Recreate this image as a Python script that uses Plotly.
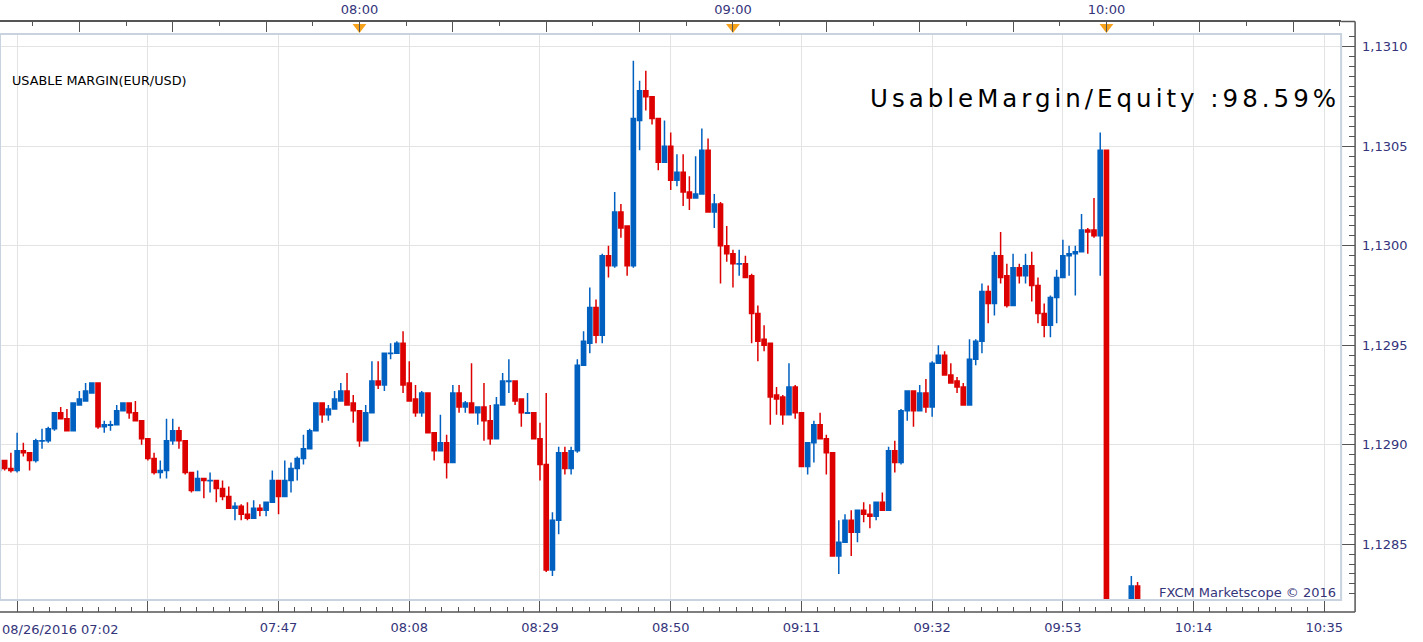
import plotly.graph_objects as go

DATE = "2016-08-26"

times = [
    "07:02", "07:03", "07:04", "07:05", "07:06", "07:07", "07:08", "07:09", "07:10", "07:11",
    "07:12", "07:13", "07:14", "07:15", "07:16", "07:17", "07:18", "07:19", "07:20", "07:21",
    "07:22", "07:23", "07:24", "07:25", "07:26", "07:27", "07:28", "07:29", "07:30", "07:31",
    "07:32", "07:33", "07:34", "07:35", "07:36", "07:37", "07:38", "07:39", "07:40", "07:41",
    "07:42", "07:43", "07:44", "07:45", "07:46", "07:47", "07:48", "07:49", "07:50", "07:51",
    "07:52", "07:53", "07:54", "07:55", "07:56", "07:57", "07:58", "07:59", "08:00", "08:01",
    "08:02", "08:03", "08:04", "08:05", "08:06", "08:07", "08:08", "08:09", "08:10", "08:11",
    "08:12", "08:13", "08:14", "08:15", "08:16", "08:17", "08:18", "08:19", "08:20", "08:21",
    "08:22", "08:23", "08:24", "08:25", "08:26", "08:27", "08:28", "08:29", "08:30", "08:31",
    "08:32", "08:33", "08:34", "08:35", "08:36", "08:37", "08:38", "08:39", "08:40", "08:41",
    "08:42", "08:43", "08:44", "08:45", "08:46", "08:47", "08:48", "08:49", "08:50", "08:51",
    "08:52", "08:53", "08:54", "08:55", "08:56", "08:57", "08:58", "08:59", "09:00", "09:01",
    "09:02", "09:03", "09:04", "09:05", "09:06", "09:07", "09:08", "09:09", "09:10", "09:11",
    "09:12", "09:13", "09:14", "09:15", "09:16", "09:17", "09:18", "09:19", "09:20", "09:21",
    "09:22", "09:23", "09:24", "09:25", "09:26", "09:27", "09:28", "09:29", "09:30", "09:31",
    "09:32", "09:33", "09:34", "09:35", "09:36", "09:37", "09:38", "09:39", "09:40", "09:41",
    "09:42", "09:43", "09:44", "09:45", "09:46", "09:47", "09:48", "09:49", "09:50", "09:51",
    "09:52", "09:53", "09:54", "09:55", "09:56", "09:57", "09:58", "09:59", "10:00", "10:04",
    "10:05",
]

open_ = [
    1.12887, 1.12892, 1.12888, 1.12887, 1.12897, 1.12896, 1.12892, 1.129018, 1.12902, 1.12908,
    1.12916, 1.12913, 1.12907, 1.12920, 1.12922, 1.12926, 1.12931, 1.12909, 1.129098, 1.12910,
    1.12917, 1.12921, 1.12916, 1.12912, 1.12903, 1.12893, 1.12886, 1.12887, 1.12902, 1.12907,
    1.12902, 1.12886, 1.12877, 1.12883, 1.128818, 1.12882, 1.12878, 1.12874, 1.12868, 1.12869,
    1.12865, 1.12863, 1.12868, 1.12867, 1.12871, 1.12882, 1.12874, 1.12882, 1.12888, 1.12893,
    1.12898, 1.12907, 1.12921, 1.12915, 1.12918, 1.12922, 1.12927, 1.12921, 1.12917, 1.12902,
    1.12916, 1.12932, 1.12930, 1.129458, 1.12946, 1.12951, 1.12931, 1.12923, 1.12916, 1.12926,
    1.12906, 1.12897, 1.12901, 1.12891, 1.12926, 1.12919, 1.12921, 1.12916, 1.12919, 1.12912,
    1.12903, 1.12920, 1.129318, 1.12932, 1.12923, 1.129158, 1.12916, 1.12903, 1.12890, 1.12837,
    1.12862, 1.12896, 1.12888, 1.12897, 1.12940, 1.12951, 1.12969, 1.12955, 1.12995, 1.12990,
    1.13017, 1.13010, 1.12990, 1.13063, 1.13078, 1.13075, 1.13064, 1.13042, 1.13050, 1.13033,
    1.13037, 1.13027, 1.13024, 1.13026, 1.13048, 1.13017, 1.13021, 1.13000, 1.12996, 1.129908,
    1.12991, 1.12985, 1.12966, 1.12953, 1.12951, 1.12925, 1.12924, 1.12915, 1.12929, 1.12916,
    1.12889, 1.12901, 1.12910, 1.12903, 1.12896, 1.12844, 1.12851, 1.12862, 1.12856, 1.12867,
    1.12865, 1.12864, 1.12871, 1.12867, 1.12897, 1.12891, 1.12917, 1.12927, 1.12917, 1.12926,
    1.12919, 1.12941, 1.12945, 1.12935, 1.12932, 1.12929, 1.12920, 1.12943, 1.12952, 1.12977,
    1.12971, 1.12995, 1.12985, 1.12970, 1.12989, 1.12985, 1.12990, 1.12980, 1.12966, 1.12960,
    1.12974, 1.12984, 1.12995, 1.12996, 1.12997, 1.13008, 1.13008, 1.13005, 1.13048, 1.12800,
    1.12829,
]

high = [
    1.12893, 1.12892, 1.12896, 1.12906, 1.12901, 1.12896, 1.12903, 1.12908, 1.12909, 1.12916,
    1.12919, 1.12918, 1.12921, 1.12927, 1.12931, 1.12931, 1.12931, 1.12912, 1.12912, 1.12920,
    1.12921, 1.12921, 1.12922, 1.12912, 1.12903, 1.12896, 1.12892, 1.12913, 1.12913, 1.12909,
    1.12902, 1.12886, 1.12887, 1.12883, 1.12886, 1.12882, 1.12882, 1.12879, 1.12871, 1.12870,
    1.12871, 1.12872, 1.12870, 1.12871, 1.12887, 1.12882, 1.12892, 1.12891, 1.12894, 1.12905,
    1.12908, 1.12921, 1.12921, 1.12920, 1.12927, 1.12931, 1.12936, 1.12925, 1.12917, 1.12920,
    1.12942, 1.12942, 1.12946, 1.12951, 1.12952, 1.12957, 1.12942, 1.12930, 1.12927, 1.12926,
    1.12906, 1.12915, 1.12905, 1.12930, 1.12930, 1.12922, 1.12941, 1.12919, 1.12931, 1.12920,
    1.12924, 1.12936, 1.12943, 1.12932, 1.12923, 1.12926, 1.12916, 1.12911, 1.12926, 1.12866,
    1.12899, 1.12899, 1.12899, 1.12943, 1.12957, 1.12979, 1.12973, 1.12996, 1.13000, 1.13027,
    1.13021, 1.13010, 1.13093, 1.13083, 1.13088, 1.13075, 1.13064, 1.13063, 1.13057, 1.13046,
    1.13046, 1.13035, 1.13045, 1.13059, 1.13054, 1.13026, 1.13022, 1.13010, 1.12998, 1.12998,
    1.12995, 1.12986, 1.12970, 1.12960, 1.12951, 1.12929, 1.12925, 1.12941, 1.12930, 1.12916,
    1.12901, 1.12912, 1.12916, 1.12905, 1.12896, 1.12862, 1.12865, 1.12867, 1.12867, 1.12871,
    1.12870, 1.12871, 1.12876, 1.12899, 1.12902, 1.12918, 1.12927, 1.12927, 1.12930, 1.12933,
    1.12942, 1.12950, 1.12947, 1.12941, 1.12934, 1.12931, 1.12953, 1.12953, 1.12981, 1.12980,
    1.12997, 1.13007, 1.12991, 1.12996, 1.12991, 1.12996, 1.12997, 1.12984, 1.12971, 1.12975,
    1.12988, 1.13003, 1.13000, 1.13000, 1.13016, 1.13009, 1.13024, 1.13057, 1.13048, 1.12834,
    1.12831,
]

low = [
    1.12886, 1.12887, 1.12886, 1.12886, 1.12894, 1.12887, 1.12891, 1.12898, 1.12901, 1.12907,
    1.12913, 1.12907, 1.12907, 1.12920, 1.12922, 1.12926, 1.12908, 1.12906, 1.12907, 1.12910,
    1.12917, 1.12913, 1.12912, 1.12900, 1.12892, 1.12885, 1.12883, 1.12883, 1.12900, 1.12898,
    1.12885, 1.12876, 1.12877, 1.12873, 1.12876, 1.12871, 1.12872, 1.12868, 1.12862, 1.12862,
    1.12862, 1.12863, 1.12864, 1.12864, 1.12871, 1.12865, 1.12874, 1.12876, 1.12882, 1.12890,
    1.12898, 1.12907, 1.12911, 1.12912, 1.12918, 1.12922, 1.12920, 1.12911, 1.12899, 1.12902,
    1.12916, 1.12928, 1.12927, 1.12943, 1.12946, 1.12926, 1.12922, 1.12914, 1.12914, 1.12906,
    1.12892, 1.12897, 1.12883, 1.12891, 1.12916, 1.12916, 1.12916, 1.12910, 1.12902, 1.12900,
    1.12903, 1.12920, 1.12926, 1.12920, 1.12909, 1.12916, 1.12903, 1.12882, 1.12836, 1.12834,
    1.12855, 1.12885, 1.12885, 1.12896, 1.12940, 1.12946, 1.12951, 1.12951, 1.12984, 1.12989,
    1.13004, 1.12985, 1.12989, 1.13048, 1.13068, 1.13061, 1.13038, 1.13042, 1.13028, 1.13030,
    1.13020, 1.13018, 1.13024, 1.13026, 1.13017, 1.13009, 1.12981, 1.12992, 1.12979, 1.12985,
    1.12984, 1.12951, 1.12942, 1.12947, 1.12910, 1.12915, 1.12910, 1.12915, 1.12913, 1.12889,
    1.12885, 1.12891, 1.12903, 1.12885, 1.12844, 1.12835, 1.12851, 1.12844, 1.12851, 1.12861,
    1.12858, 1.12862, 1.12867, 1.12867, 1.12886, 1.12890, 1.12912, 1.12909, 1.12917, 1.12916,
    1.12914, 1.12941, 1.12935, 1.12931, 1.12926, 1.12920, 1.12920, 1.12940, 1.12946, 1.12961,
    1.12965, 1.12981, 1.12969, 1.12970, 1.12981, 1.12981, 1.12972, 1.12961, 1.12954, 1.12954,
    1.12961, 1.12984, 1.12985, 1.12975, 1.12997, 1.12996, 1.13004, 1.12985, 1.12800, 1.12800,
    1.12800,
]

close = [
    1.12892, 1.12888, 1.12887, 1.12897, 1.12896, 1.12892, 1.12902, 1.129020, 1.12908, 1.12916,
    1.12913, 1.12907, 1.12921, 1.12923, 1.12927, 1.12931, 1.12909, 1.12910, 1.129100, 1.12917,
    1.12921, 1.12916, 1.12912, 1.12903, 1.12893, 1.12886, 1.12887, 1.12902, 1.12907, 1.12902,
    1.12886, 1.12877, 1.12883, 1.12882, 1.128820, 1.12878, 1.12874, 1.12868, 1.12869, 1.12865,
    1.12863, 1.12868, 1.12867, 1.12871, 1.12882, 1.12874, 1.12882, 1.12888, 1.12893, 1.12898,
    1.12907, 1.12921, 1.12915, 1.12918, 1.12923, 1.12927, 1.12920, 1.12917, 1.12902, 1.12916,
    1.12932, 1.12930, 1.12946, 1.129460, 1.12951, 1.12930, 1.12922, 1.12916, 1.12926, 1.12906,
    1.12897, 1.12901, 1.12891, 1.12926, 1.12919, 1.12921, 1.12916, 1.12919, 1.12912, 1.12903,
    1.12920, 1.12932, 1.129320, 1.12922, 1.12916, 1.129160, 1.12903, 1.12890, 1.12837, 1.12862,
    1.12896, 1.12888, 1.12897, 1.12940, 1.12952, 1.12969, 1.12955, 1.12995, 1.12990, 1.13017,
    1.13009, 1.12990, 1.13064, 1.13078, 1.13075, 1.13064, 1.13042, 1.13050, 1.13033, 1.13037,
    1.13027, 1.13024, 1.13026, 1.13048, 1.13017, 1.13021, 1.13000, 1.12996, 1.12991, 1.129910,
    1.12984, 1.12966, 1.12952, 1.12950, 1.12924, 1.12923, 1.12915, 1.12929, 1.12916, 1.12889,
    1.12901, 1.12910, 1.12903, 1.12896, 1.12844, 1.12851, 1.12862, 1.12856, 1.12867, 1.12865,
    1.12864, 1.12871, 1.12867, 1.12897, 1.12891, 1.12917, 1.12927, 1.12917, 1.12926, 1.12919,
    1.12941, 1.12945, 1.12935, 1.12931, 1.12929, 1.12920, 1.12943, 1.12952, 1.12977, 1.12971,
    1.12995, 1.12984, 1.12970, 1.12989, 1.12985, 1.12990, 1.12980, 1.12966, 1.12960, 1.12974,
    1.12984, 1.12995, 1.12996, 1.12997, 1.13008, 1.13007, 1.13005, 1.13048, 1.12800, 1.12829,
    1.12800,
]

bottom_tick_times = ["07:05", "07:26", "07:47", "08:08", "08:29", "08:50", "09:11", "09:32", "09:53", "10:14", "10:35"]
bottom_tick_labels = ["", "", "07:47", "08:08", "08:29", "08:50", "09:11", "09:32", "09:53", "10:14", "10:35"]
first_bar_label = "08/26/2016 07:02"

top_tick_times = ["07:15", "07:30", "07:45", "08:00", "08:15", "08:30", "08:45", "09:00",
                  "09:15", "09:30", "09:45", "10:00", "10:15", "10:30"]
top_tick_labels = ["", "", "", "08:00", "", "", "", "09:00", "", "", "", "10:00", "", ""]
hour_marks = ["08:00", "09:00", "10:00"]

price_ticks = [1.1285, 1.1290, 1.1295, 1.1300, 1.1305, 1.1310]

title_left = "USABLE MARGIN(EUR/USD)"
title_right = "UsableMargin/Equity :98.59%"
credit = "FXCM Marketscope © 2016"

# ---------- layout geometry (pixels) ----------
W, H = 1423, 642
PLOT_L, PLOT_R, PLOT_T, PLOT_B = 0, 1343, 34, 600
BOT_AXIS_Y = 612
RIGHT_AXIS_X = 1357
TOP_AXIS_Y = 21.5


def px(x):
    return x / W


def py(y):
    return 1 - y / H


def ts(t):
    return f"{DATE} {t}"


X_RANGE = [ts("07:02:15"), ts("10:37:42")]
Y_RANGE = [1.128219, 1.131065]

BLUE = "#0060c0"
RED = "#dd0000"
AXIS_COL = "#555555"
TXT_COL = "#34347a"
GRID_COL = "#e3e3e3"
FONT = "DejaVu Sans"

fig = go.Figure()

fig.add_trace(go.Candlestick(
    x=[ts(t) for t in times],
    open=open_, high=high, low=low, close=close,
    increasing=dict(line=dict(color=BLUE, width=1.5), fillcolor=BLUE),
    decreasing=dict(line=dict(color=RED, width=1.5), fillcolor=RED),
    whiskerwidth=0,
    xaxis="x", yaxis="y",
    showlegend=False,
    hoverinfo="skip",
))

fig.add_trace(go.Scatter(
    x=[ts(t) for t in hour_marks],
    y=[0.55] * len(hour_marks),
    mode="markers",
    marker=dict(symbol="triangle-down", size=12, color="#f7a21b",
                line=dict(width=0)),
    xaxis="x2", yaxis="y3",
    cliponaxis=False,
    showlegend=False,
    hoverinfo="skip",
))

tickfont = dict(family=FONT, size=13, color=TXT_COL)

fig.update_layout(
    width=W, height=H,
    margin=dict(l=0, r=0, t=0, b=0),
    paper_bgcolor="white",
    plot_bgcolor="white",
    separators=",.",
    boxgap=0.33, boxgroupgap=0,
    showlegend=False,
    xaxis=dict(
        type="date",
        domain=[px(PLOT_L), px(PLOT_R)],
        range=X_RANGE,
        anchor="free", position=py(BOT_AXIS_Y), side="bottom",
        rangeslider=dict(visible=False),
        showline=False, zeroline=False,
        tickmode="array",
        tickvals=[ts(t) for t in bottom_tick_times],
        ticktext=bottom_tick_labels,
        ticks="inside", ticklen=11, tickwidth=1, tickcolor=AXIS_COL,
        ticklabelstandoff=6,
        tickfont=tickfont,
        showgrid=True, gridcolor=GRID_COL, gridwidth=1,
        minor=dict(ticks="inside", ticklen=5, tickwidth=1, tickcolor=AXIS_COL,
                   tick0=ts("07:05"), dtick=157500, showgrid=False),
    ),
    yaxis=dict(
        domain=[py(PLOT_B), py(PLOT_T)],
        range=Y_RANGE,
        anchor="free", position=px(RIGHT_AXIS_X), side="right",
        showline=False, zeroline=False,
        tickmode="array", tickvals=price_ticks, tickformat=".4f",
        ticks="inside", ticklen=14, tickwidth=1, tickcolor=AXIS_COL,
        ticklabelstandoff=6,
        tickfont=tickfont,
        showgrid=True, gridcolor=GRID_COL, gridwidth=1,
        minor=dict(ticks="inside", ticklen=6, tickwidth=1, tickcolor=AXIS_COL,
                   tick0=1.1280, dtick=0.00005, showgrid=False),
    ),
    xaxis2=dict(
        type="date",
        domain=[px(PLOT_L), px(PLOT_R)],
        range=X_RANGE,
        anchor="y3", side="top",
        showline=True, linecolor=AXIS_COL, linewidth=1.5,
        zeroline=False, showgrid=False,
        tickmode="array",
        tickvals=[ts(t) for t in top_tick_times],
        ticktext=top_tick_labels,
        ticks="inside", ticklen=11, tickwidth=1, tickcolor=AXIS_COL,
        ticklabelstandoff=1,
        tickfont=tickfont,
        minor=dict(ticks="inside", ticklen=5, tickwidth=1, tickcolor=AXIS_COL,
                   tick0=ts("07:00"), dtick=450000, showgrid=False),
    ),
    yaxis3=dict(
        domain=[py(PLOT_T), py(TOP_AXIS_Y)],
        range=[0, 1], anchor="x2", visible=False,
    ),
    shapes=[
        dict(type="rect", xref="paper", yref="paper",
             x0=px(PLOT_L), x1=px(PLOT_R), y0=py(PLOT_B), y1=py(PLOT_T),
             line=dict(color="#c8d3df", width=2), layer="above"),
        dict(type="line", xref="paper", yref="paper",
             x0=0, x1=px(RIGHT_AXIS_X), y0=py(BOT_AXIS_Y), y1=py(BOT_AXIS_Y),
             line=dict(color=AXIS_COL, width=1.5)),
        dict(type="line", xref="paper", yref="paper",
             x0=px(RIGHT_AXIS_X), x1=px(RIGHT_AXIS_X), y0=py(BOT_AXIS_Y), y1=py(TOP_AXIS_Y),
             line=dict(color=AXIS_COL, width=1.5)),
        dict(type="line", xref="paper", yref="paper",
             x0=px(PLOT_R), x1=px(RIGHT_AXIS_X), y0=py(TOP_AXIS_Y), y1=py(TOP_AXIS_Y),
             line=dict(color=AXIS_COL, width=1.5)),
    ],
    annotations=[
        dict(text=title_left, xref="paper", yref="paper", x=px(10), y=py(80.5),
             xanchor="left", yanchor="middle", showarrow=False,
             font=dict(family=FONT, size=12.8, color="#000000")),
        dict(text='<span style="letter-spacing:4px">' + title_right + '</span>',
             xref="paper", yref="paper", x=px(1344), y=py(98),
             xanchor="right", yanchor="middle", showarrow=False,
             font=dict(family=FONT, size=24.5, color="#000000")),
        dict(text=credit, xref="paper", yref="paper", x=px(1340), y=py(592),
             xanchor="right", yanchor="middle", showarrow=False,
             font=dict(family=FONT, size=13, color=TXT_COL)),
        dict(text=first_bar_label, xref="paper", yref="paper", x=0, y=py(629),
             xanchor="left", yanchor="middle", showarrow=False,
             font=dict(family=FONT, size=13, color=TXT_COL)),
    ],
)

fig.write_html("out.html")
